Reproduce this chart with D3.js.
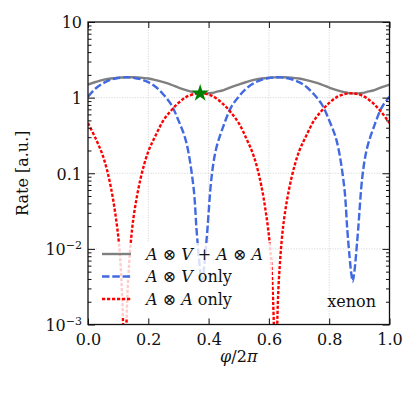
<!DOCTYPE html>
<html>
<head>
<meta charset="utf-8">
<script src="https://cdn.jsdelivr.net/npm/d3@7"></script>
<style>
  body { margin: 0; background: #fff; }
  svg text { font-family: "DejaVu Serif", serif; fill: #111; }
  .axis path, .axis line { stroke: #111; }
  .grid line { stroke: #cfcfcf; stroke-width: 0.8; stroke-dasharray: 1.2,1.4; }
</style>
</head>
<body>
<svg id="chart" width="407" height="398"></svg>
<script>
// phi / 2pi sample positions (denser around the dips)
const phi = [0, 0.025, 0.05, 0.075, 0.1, 0.11, 0.117, 0.122, 0.127, 0.134, 0.15, 0.175, 0.2, 0.225, 0.25,
  0.275, 0.3, 0.325, 0.35, 0.36, 0.368, 0.373, 0.378, 0.383, 0.388, 0.396, 0.41, 0.425, 0.45, 0.475,
  0.5, 0.525, 0.55, 0.575, 0.6, 0.61, 0.617, 0.622, 0.627, 0.634, 0.65, 0.675, 0.7, 0.725, 0.75,
  0.775, 0.8, 0.825, 0.85, 0.86, 0.868, 0.873, 0.878, 0.883, 0.888, 0.896, 0.91, 0.925, 0.95, 0.975, 1.0];

// A(x)V + A(x)A
const rateTotal = [1.49, 1.61, 1.72, 1.79, 1.835, 1.845, 1.85, 1.855, 1.86, 1.86, 1.86, 1.84, 1.79, 1.70, 1.60,
  1.49, 1.36, 1.26, 1.18, 1.158, 1.148, 1.144, 1.14, 1.137, 1.136, 1.137, 1.152, 1.19, 1.26, 1.38,
  1.49, 1.61, 1.72, 1.79, 1.835, 1.845, 1.85, 1.855, 1.86, 1.86, 1.86, 1.84, 1.79, 1.70, 1.60,
  1.49, 1.36, 1.26, 1.18, 1.158, 1.148, 1.144, 1.14, 1.137, 1.136, 1.137, 1.152, 1.19, 1.26, 1.38, 1.49];

// A(x)V only
const rateAV = [1.03, 1.32, 1.55, 1.72, 1.82, 1.84, 1.85, 1.855, 1.86, 1.855, 1.835, 1.75, 1.60, 1.38, 1.10,
  0.82, 0.50, 0.266, 0.065, 0.018, 0.0075, 0.0048, 0.0037, 0.0048, 0.0075, 0.018, 0.09, 0.211, 0.43, 0.75,
  1.03, 1.32, 1.55, 1.72, 1.82, 1.84, 1.85, 1.855, 1.86, 1.855, 1.835, 1.75, 1.60, 1.38, 1.10,
  0.82, 0.50, 0.266, 0.065, 0.018, 0.0075, 0.0048, 0.0037, 0.0048, 0.0075, 0.018, 0.09, 0.211, 0.43, 0.75, 1.03];

// A(x)A only
const rateAA = [0.46, 0.29, 0.167, 0.068, 0.015, 0.0045, 0.0008, 0.00002, 0.0008, 0.0045, 0.0243, 0.087, 0.194, 0.32, 0.50,
  0.67, 0.85, 1.016, 1.113, 1.132, 1.139, 1.14, 1.138, 1.133, 1.126, 1.112, 1.06, 0.983, 0.81, 0.63,
  0.46, 0.29, 0.167, 0.068, 0.015, 0.0045, 0.0008, 0.00002, 0.0008, 0.0045, 0.0243, 0.087, 0.194, 0.32, 0.50,
  0.67, 0.85, 1.016, 1.113, 1.132, 1.139, 1.14, 1.138, 1.133, 1.126, 1.112, 1.06, 0.983, 0.81, 0.63, 0.46];

// the marked point
const starPhi = [0.372];
const starRate = [1.14];

const xTicks = [0, 0.2, 0.4, 0.6, 0.8, 1.0];
const xTickLabels = ['0.0', '0.2', '0.4', '0.6', '0.8', '1.0'];
const yTicks = [1e-3, 1e-2, 0.1, 1, 10];
const yTickLabels = [['10', '−3'], ['10', '−2'], ['0.1'], ['1'], ['10']];

const series = [
  { name: 'total', values: rateTotal, color: '#808080', dash: null, label: [['A', 1], [' ⊗ ', 0], ['V', 1], [' + ', 0], ['A', 1], [' ⊗ ', 0], ['A', 1]] },
  { name: 'av', values: rateAV, color: '#4169e1', dash: '7.5,2.8', label: [['A', 1], [' ⊗ ', 0], ['V', 1], [' only', 0]] },
  { name: 'aa', values: rateAA, color: '#ff0000', dash: '3.2,1.8', label: [['A', 1], [' ⊗ ', 0], ['A', 1], [' only', 0]] },
];

const dims = { left: 88, right: 389.5, top: 22, bottom: 324.5 };
const svg = d3.select('#chart');

const x = d3.scaleLinear().domain([0, 1]).range([dims.left, dims.right]);
const y = d3.scaleLog().domain([1e-3, 10]).range([dims.bottom, dims.top]);

// minor ticks of the log axis
const yMinor = [];
for (let e = -3; e < 1; e++) {
  for (let k = 2; k <= 9; k++) yMinor.push(k * Math.pow(10, e));
}

// grid
const grid = svg.append('g').attr('class', 'grid');
grid.selectAll('line.gx').data(xTicks.slice(1, -1)).enter().append('line')
  .attr('x1', d => x(d)).attr('x2', d => x(d))
  .attr('y1', dims.top).attr('y2', dims.bottom);
grid.selectAll('line.gy').data(yTicks.slice(1, -1)).enter().append('line')
  .attr('x1', dims.left).attr('x2', dims.right)
  .attr('y1', d => y(d)).attr('y2', d => y(d));

svg.append('clipPath').attr('id', 'plot-clip')
  .append('rect')
  .attr('x', dims.left).attr('y', dims.top)
  .attr('width', dims.right - dims.left).attr('height', dims.bottom - dims.top);

const lineGen = d3.line()
  .x(d => x(d[0]))
  .y(d => y(d[1]))
  .curve(d3.curveCatmullRom.alpha(0.5));

const linesGroup = svg.append('g').attr('clip-path', 'url(#plot-clip)');
series.forEach(s => {
  linesGroup.append('path')
    .attr('d', lineGen(phi.map((p, i) => [p, s.values[i]])))
    .attr('fill', 'none')
    .attr('stroke', s.color)
    .attr('stroke-width', 2.4)
    .attr('stroke-dasharray', s.dash);
});

// green star
svg.selectAll('path.star').data(starPhi).enter().append('path')
  .attr('class', 'star')
  .attr('d', d3.symbol().type(d3.symbolStar).size(95))
  .attr('transform', (d, i) => `translate(${x(d)},${y(starRate[i])})`)
  .attr('fill', '#008000');

// legend with semi transparent background
const legend = svg.append('g').attr('class', 'legend');
legend.append('rect')
  .attr('x', 97).attr('y', 243).attr('width', 175).attr('height', 75)
  .attr('rx', 3)
  .attr('fill', '#fff').attr('fill-opacity', 0.8);
series.forEach((s, i) => {
  const cy = 254 + i * 22.5;
  legend.append('line')
    .attr('x1', 102).attr('x2', 131)
    .attr('y1', cy).attr('y2', cy)
    .attr('stroke', s.color).attr('stroke-width', 2.4)
    .attr('stroke-dasharray', s.dash);
  const t = legend.append('text').attr('x', 146).attr('y', cy + 5.5).attr('font-size', 16);
  s.label.forEach(([str, it]) => {
    t.append('tspan').attr('font-style', it ? 'italic' : null).text(str);
  });
});

svg.append('text')
  .attr('x', 376).attr('y', 307)
  .attr('text-anchor', 'end')
  .attr('font-size', 16)
  .text('xenon');

// axes, ticks pointing inwards on all four sides
const bottomAxis = d3.axisBottom(x).tickValues(xTicks).tickSize(-6).tickPadding(9)
  .tickFormat((d, i) => xTickLabels[i]);
const topAxis = d3.axisTop(x).tickValues(xTicks).tickSize(-6).tickFormat('');
const leftMajor = d3.axisLeft(y).tickValues(yTicks).tickSize(-7).tickPadding(6).tickFormat('');
const rightMajor = d3.axisRight(y).tickValues(yTicks).tickSize(-7).tickFormat('');
const leftMinor = d3.axisLeft(y).tickValues(yMinor).tickSize(-3.5).tickFormat('');
const rightMinor = d3.axisRight(y).tickValues(yMinor).tickSize(-3.5).tickFormat('');

const gb = svg.append('g').attr('class', 'axis').attr('transform', `translate(0,${dims.bottom})`).call(bottomAxis);
svg.append('g').attr('class', 'axis').attr('transform', `translate(0,${dims.top})`).call(topAxis);
const gl = svg.append('g').attr('class', 'axis').attr('transform', `translate(${dims.left},0)`).call(leftMajor);
svg.append('g').attr('class', 'axis').attr('transform', `translate(${dims.right},0)`).call(rightMajor);
svg.append('g').attr('class', 'axis').attr('transform', `translate(${dims.left},0)`).call(leftMinor);
svg.append('g').attr('class', 'axis').attr('transform', `translate(${dims.right},0)`).call(rightMinor);

svg.selectAll('.axis path.domain').remove();
svg.selectAll('.axis line').attr('stroke-width', 1);

gb.selectAll('text')
  .attr('font-size', 16)
  .attr('fill', '#111');

// y tick labels, with superscript exponents
gl.selectAll('.tick').each(function (d, i) {
  const lab = yTickLabels[i];
  const t = d3.select(this).append('text')
    .attr('x', -6).attr('dy', '0.36em')
    .attr('text-anchor', 'end')
    .attr('font-size', 16);
  t.append('tspan').text(lab[0]);
  if (lab.length > 1) {
    t.append('tspan').attr('dy', '-0.55em').attr('font-size', 11).text(lab[1]);
  }
});

// frame
svg.append('rect')
  .attr('x', dims.left).attr('y', dims.top)
  .attr('width', dims.right - dims.left).attr('height', dims.bottom - dims.top)
  .attr('fill', 'none').attr('stroke', '#111').attr('stroke-width', 1.3);

// axis titles
const xt = svg.append('text')
  .attr('x', (dims.left + dims.right) / 2).attr('y', 362)
  .attr('text-anchor', 'middle')
  .attr('font-size', 16);
xt.append('tspan').attr('font-style', 'italic').text('φ');
xt.append('tspan').text('/2');
xt.append('tspan').attr('font-style', 'italic').text('π');

svg.append('text')
  .attr('transform', `translate(28,${(dims.top + dims.bottom) / 2}) rotate(-90)`)
  .attr('text-anchor', 'middle')
  .attr('font-size', 16)
  .text('Rate [a.u.]');
</script>
</body>
</html>
